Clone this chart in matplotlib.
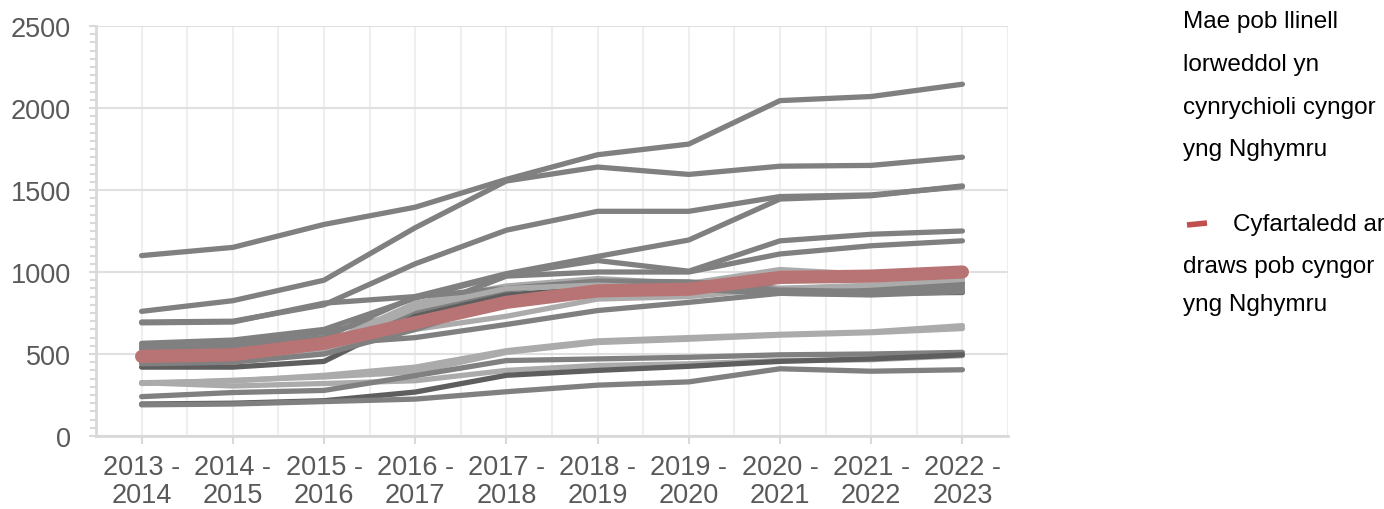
import matplotlib
matplotlib.use("Agg")
import matplotlib.pyplot as plt
from matplotlib.ticker import MultipleLocator, FixedLocator
from matplotlib.lines import Line2D

plt.rcParams['font.family'] = ['Liberation Sans', 'DejaVu Sans']

years = ["2013 -\n2014", "2014 -\n2015", "2015 -\n2016", "2016 -\n2017", "2017 -\n2018",
         "2018 -\n2019", "2019 -\n2020", "2020 -\n2021", "2021 -\n2022", "2022 -\n2023"]

# council lines (value series) and their shade
councils = [
    ([1100, 1150, 1290, 1395, 1565, 1715, 1780, 2045, 2070, 2145], "mid"),
    ([760, 825, 950, 1270, 1555, 1640, 1595, 1645, 1650, 1700], "mid"),
    ([695, 700, 800, 1050, 1255, 1370, 1370, 1460, 1470, 1520], "mid"),
    ([690, 695, 810, 850, 990, 1095, 1195, 1445, 1465, 1525], "mid"),
    ([565, 585, 650, 840, 985, 1070, 1005, 1190, 1230, 1250], "mid"),
    ([555, 575, 630, 760, 975, 1000, 1000, 1110, 1160, 1190], "mid"),
    ([500, 510, 560, 810, 915, 960, 930, 1015, 985, 990], "light"),
    ([540, 550, 600, 850, 900, 945, 940, 900, 905, 935], "mid"),
    ([470, 480, 520, 760, 890, 940, 920, 890, 890, 925], "mid"),
    ([420, 420, 455, 730, 860, 900, 880, 880, 870, 875], "dark"),
    ([450, 470, 560, 600, 680, 765, 815, 870, 860, 880], "mid"),
    ([460, 470, 530, 650, 730, 835, 850, 900, 920, 955], "light"),
    ([440, 450, 500, 650, 830, 880, 895, 870, 865, 895], "mid"),
    ([530, 540, 590, 700, 800, 900, 910, 890, 880, 910], "mid"),
    ([480, 490, 540, 780, 900, 920, 900, 990, 960, 965], "light"),
    ([325, 335, 370, 420, 520, 580, 600, 620, 635, 673], "light"),
    ([320, 340, 360, 390, 510, 570, 590, 615, 630, 655], "light"),
    ([325, 305, 320, 337, 400, 430, 440, 460, 465, 490], "light"),
    ([240, 265, 278, 368, 460, 470, 480, 495, 500, 510], "mid"),
    ([195, 200, 215, 268, 370, 400, 425, 455, 470, 495], "dark"),
    ([190, 195, 210, 225, 270, 310, 330, 410, 395, 404], "mid"),
]
average = [485, 495, 565, 690, 815, 885, 895, 967, 975, 1000]

shade_colors = {"mid": "#808080", "light": "#ababab", "dark": "#5e5e5e"}

fig = plt.figure(figsize=(13.84, 5.10), dpi=100)
ax = fig.add_axes([96/1384, 1 - 437/510, (1008 - 96)/1384, (437 - 27)/510])

x = list(range(len(years)))
for vals, shade in councils:
    ax.plot(x, vals, color=shade_colors[shade], lw=3.8, solid_capstyle='round',
            solid_joinstyle='round', zorder=3)
ax.plot(x, average, color="#b87474", lw=9.5, solid_capstyle='round',
        solid_joinstyle='round', zorder=4)

ax.set_xlim(-0.5, 9.5)
ax.set_ylim(0, 2500)
ax.set_xticks(x)
ax.set_xticklabels(years)
ax.xaxis.set_minor_locator(FixedLocator([i + 0.5 for i in range(-1, 10)]))
ax.yaxis.set_major_locator(MultipleLocator(500))
ax.yaxis.set_minor_locator(MultipleLocator(50))

for s in ["top", "right"]:
    ax.spines[s].set_visible(False)
for s in ["left", "bottom"]:
    ax.spines[s].set_color("#d9d9d9")
    ax.spines[s].set_linewidth(2)

ax.grid(axis='y', which='major', color="#e0e0e0", lw=1.5, zorder=0)
ax.grid(axis='x', which='both', color="#efefef", lw=1.5, zorder=0)
ax.set_axisbelow(True)

ax.tick_params(axis='y', which='major', length=5, width=1.5, color="#d9d9d9",
               labelsize=19.5, labelcolor="#595959", pad=13)
ax.tick_params(axis='y', which='minor', length=4, width=1.5, color="#d9d9d9")
ax.tick_params(axis='x', which='major', length=6, width=1.5, color="#d9d9d9",
               labelsize=19.5, labelcolor="#595959", pad=7)
ax.tick_params(axis='x', which='minor', length=0)
for lab in ax.get_xticklabels():
    lab.set_linespacing(1.12)

# legend / annotation text on the right
tx = 1183 / 1384
fs = 17.5
lines1 = ["Mae pob llinell", "lorweddol yn", "cynrychioli cyngor", "yng Nghymru"]
ys1 = [22, 65, 108, 150]
for t, yy in zip(lines1, ys1):
    fig.text(tx, 1 - yy / 510, t, fontsize=fs, color="#000000", va='center', ha='left')

fig.add_artist(Line2D([1187/1384, 1207/1384], [1 - 226/510, 1 - 224/510],
                      color="#c0504d", lw=4, solid_capstyle='butt'))
fig.text(1233/1384, 1 - 225/510, "Cyfartaledd ar", fontsize=fs, color="#000000",
         va='center', ha='left')
fig.text(tx, 1 - 267/510, "draws pob cyngor", fontsize=fs, color="#000000",
         va='center', ha='left')
fig.text(tx, 1 - 305/510, "yng Nghymru", fontsize=fs, color="#000000",
         va='center', ha='left')

fig.savefig("out.png", dpi=100)
